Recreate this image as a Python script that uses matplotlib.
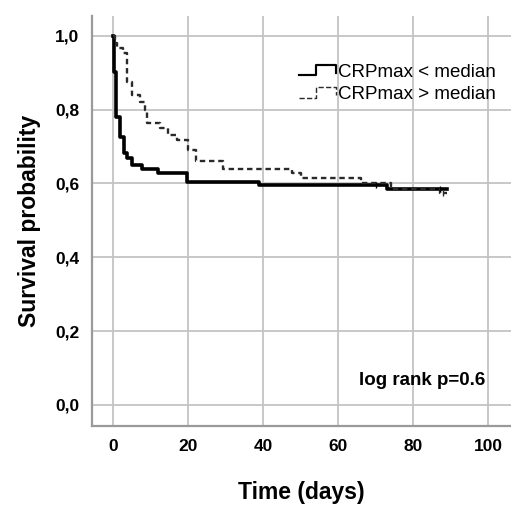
import matplotlib.pyplot as plt
from matplotlib.legend_handler import HandlerBase
from matplotlib.lines import Line2D

plt.rcParams['font.family'] = ['Liberation Sans', 'DejaVu Sans']

# Kaplan-Meier steps
low_times = [0, 0.2, 0.8, 1.9, 2.8, 3.7, 5, 7.6, 12, 19.6, 39, 73, 89]
low_surv = [1.0, 0.903, 0.78, 0.727, 0.683, 0.669, 0.65, 0.64, 0.629, 0.605, 0.596, 0.585, 0.585]
high_times = [0, 0.5, 1.0, 2.7, 3.7, 5, 7.2, 8.5, 9, 12.5, 14.7, 17, 20, 22, 29.4,
              47.6, 50, 66, 74, 87, 89]
high_surv = [1.0, 0.98, 0.967, 0.954, 0.876, 0.84, 0.82, 0.80, 0.763, 0.75, 0.73, 0.718,
             0.69, 0.66, 0.64, 0.628, 0.616, 0.60, 0.585, 0.575, 0.575]
low_censor_t = [70, 87]
low_censor_s = [0.596, 0.585]
high_censor_t = [88]
high_censor_s = [0.575]

labels = ["CRPmax < median", "CRPmax > median"]
xticks = [0, 20, 40, 60, 80, 100]
yticks = [0.0, 0.2, 0.4, 0.6, 0.8, 1.0]


class StepHandler(HandlerBase):
    def create_artists(self, legend, orig, xd, yd, w, h, fontsize, trans):
        xs = [xd, xd + w * 0.45, xd + w * 0.45, xd + w, xd + w]
        ys = [yd + h * 0.1, yd + h * 0.1, yd + h * 0.9, yd + h * 0.9, yd + h * 0.3]
        ln = Line2D(xs, ys, color=orig.get_color(), lw=orig.get_linewidth() * 0.6,
                    linestyle=orig.get_linestyle(), transform=trans)
        return [ln]


fig, ax = plt.subplots(figsize=(5.11, 5.09), dpi=100)
fig.subplots_adjust(left=0.18, right=1.0, bottom=0.163, top=0.969)

for t in xticks:
    ax.axvline(t, color='#c4c4c4', lw=1.3, zorder=0)
for s in yticks:
    ax.axhline(s, color='#c4c4c4', lw=1.3, zorder=0)

l1, = ax.plot(low_times, low_surv, drawstyle='steps-post', color='black', lw=2.6,
              label=labels[0])
l2, = ax.plot(high_times, high_surv, drawstyle='steps-post', color='#2a2a2a', lw=1.7,
              linestyle=(0, (2.3, 1.6)), label=labels[1])
ax.plot(low_censor_t, low_censor_s, linestyle='none', marker='|', ms=5, color='black')
ax.plot(high_censor_t, high_censor_s, linestyle='none', marker='|', ms=4, color='#2a2a2a')

ax.set_xlim(-5.6, 106)
ax.set_ylim(-0.057, 1.054)
ax.set_xticks(xticks)
ax.set_yticks(yticks)
ax.set_yticklabels([f"{v:.1f}".replace('.', ',') for v in yticks])
ax.tick_params(length=0, labelsize=12.5, pad=9)
for lab in ax.get_xticklabels() + ax.get_yticklabels():
    lab.set_fontweight('bold')

for side in ['top', 'right']:
    ax.spines[side].set_visible(False)
for side in ['left', 'bottom']:
    ax.spines[side].set_color('#9a9a9a')
    ax.spines[side].set_linewidth(1.6)

ax.set_xlabel("Time (days)", fontsize=16.5, fontweight='bold', labelpad=20)
ax.set_ylabel("Survival probability", fontsize=16.5, fontweight='bold', labelpad=10)

ax.legend(handles=[l1, l2], labels=labels, handler_map={l1: StepHandler(), l2: StepHandler()},
          loc='upper right', bbox_to_anchor=(1.005, 0.925), frameon=False, fontsize=13.5,
          handlelength=2.0, handletextpad=0.1, labelspacing=0.3)

ax.text(0.938, 0.112, "log rank p=0.6", transform=ax.transAxes, ha='right', va='center',
        fontsize=13.5, fontweight='bold')

fig.savefig("out.png", dpi=100)
